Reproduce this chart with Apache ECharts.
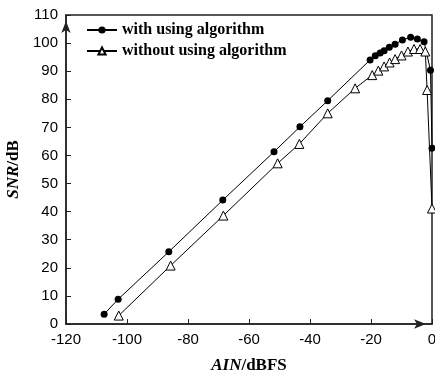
<!DOCTYPE html>
<html><head><meta charset="utf-8">
<script src="https://cdn.jsdelivr.net/npm/echarts@6/dist/echarts.min.js"></script>
<style>html,body{margin:0;padding:0;background:#fff}#c{width:435px;height:374px}</style>
</head><body><div id="c"></div>
<script>
const seriesNames = ['with using algorithm', 'without using algorithm'];
const withX = [-107.5, -102.9, -86.3, -68.6, -51.8, -43.3, -34.2, -20.3, -18.6, -17.0, -15.7, -14.0, -12.1, -9.7, -7.0, -4.8, -2.6, -0.5, 0];
const withY = [3.5, 8.8, 25.7, 44.1, 61.3, 70.2, 79.5, 94.0, 95.5, 96.5, 97.3, 98.5, 99.6, 101.1, 102.1, 101.5, 100.5, 90.3, 62.6];
const withoutX = [-102.7, -85.7, -68.4, -50.6, -43.5, -34.2, -25.2, -19.6, -17.6, -15.7, -13.9, -12.1, -10.0, -7.9, -5.9, -3.9, -2.2, -1.6, 0];
const withoutY = [3.0, 20.8, 38.6, 57.2, 64.1, 75.0, 83.9, 88.6, 90.2, 91.7, 93.1, 94.3, 95.6, 97.0, 97.9, 97.9, 97.0, 83.3, 41.1];
const xTicks = {min: -120, max: 0, interval: 20};
const yTicks = {min: 0, max: 110, interval: 10};

const pair = (xs, ys) => xs.map((x, i) => [x, ys[i]]);
const chart = echarts.init(document.getElementById('c'));
chart.setOption({
  animation: false,
  backgroundColor: '#fff',
  grid: {left: 66, right: 3, top: 15, bottom: 50, show: true, borderColor: '#222', borderWidth: 1.5,
         containLabel: false, outerBoundsMode: 'none'},
  legend: {
    orient: 'vertical', left: 81, top: 17, itemWidth: 30, itemHeight: 9, itemGap: 5,
    textStyle: {fontFamily: 'Liberation Serif', fontWeight: 'bold', fontSize: 16, color: '#000'},
    data: seriesNames
  },
  xAxis: {
    type: 'value', min: xTicks.min, max: xTicks.max, interval: xTicks.interval,
    splitLine: {show: false},
    axisLine: {onZero: false, lineStyle: {color: '#222', width: 1.5}, symbol: ['none', 'arrow'], symbolSize: [7, 12], symbolOffset: [0, -6]},
    axisTick: {inside: true, length: 5, lineStyle: {color: '#222'}},
    axisLabel: {color: '#000', fontFamily: 'Liberation Sans', fontSize: 15, margin: 8},
    name: '{i|AIN}{n|/dBFS}', nameLocation: 'middle', nameGap: 33,
    nameTextStyle: {rich: {
      i: {fontFamily: 'Liberation Serif', fontStyle: 'italic', fontWeight: 'bold', fontSize: 17, color: '#000'},
      n: {fontFamily: 'Liberation Serif', fontWeight: 'bold', fontSize: 17, color: '#000'}
    }}
  },
  yAxis: {
    type: 'value', min: yTicks.min, max: yTicks.max, interval: yTicks.interval,
    splitLine: {show: false},
    axisLine: {onZero: false, lineStyle: {color: '#222', width: 1.5}, symbol: ['none', 'arrow'], symbolSize: [7, 12], symbolOffset: [0, -6]},
    axisTick: {inside: true, length: 5, lineStyle: {color: '#222'}},
    axisLabel: {color: '#000', fontFamily: 'Liberation Sans', fontSize: 15, margin: 8},
    name: '{i|SNR}{n|/dB}', nameLocation: 'middle', nameGap: 36, nameRotate: 90,
    nameTextStyle: {rich: {
      i: {fontFamily: 'Liberation Serif', fontStyle: 'italic', fontWeight: 'bold', fontSize: 17, color: '#000'},
      n: {fontFamily: 'Liberation Serif', fontWeight: 'bold', fontSize: 17, color: '#000'}
    }}
  },
  series: [
    {name: seriesNames[0], type: 'line', data: pair(withX, withY), symbol: 'circle', symbolSize: 7,
     lineStyle: {color: '#000', width: 1}, itemStyle: {color: '#000'}},
    {name: seriesNames[1], type: 'line', data: pair(withoutX, withoutY), symbol: 'triangle', symbolSize: 9,
     lineStyle: {color: '#000', width: 1}, itemStyle: {color: '#fff', borderColor: '#000', borderWidth: 1}}
  ]
});
</script></body></html>
